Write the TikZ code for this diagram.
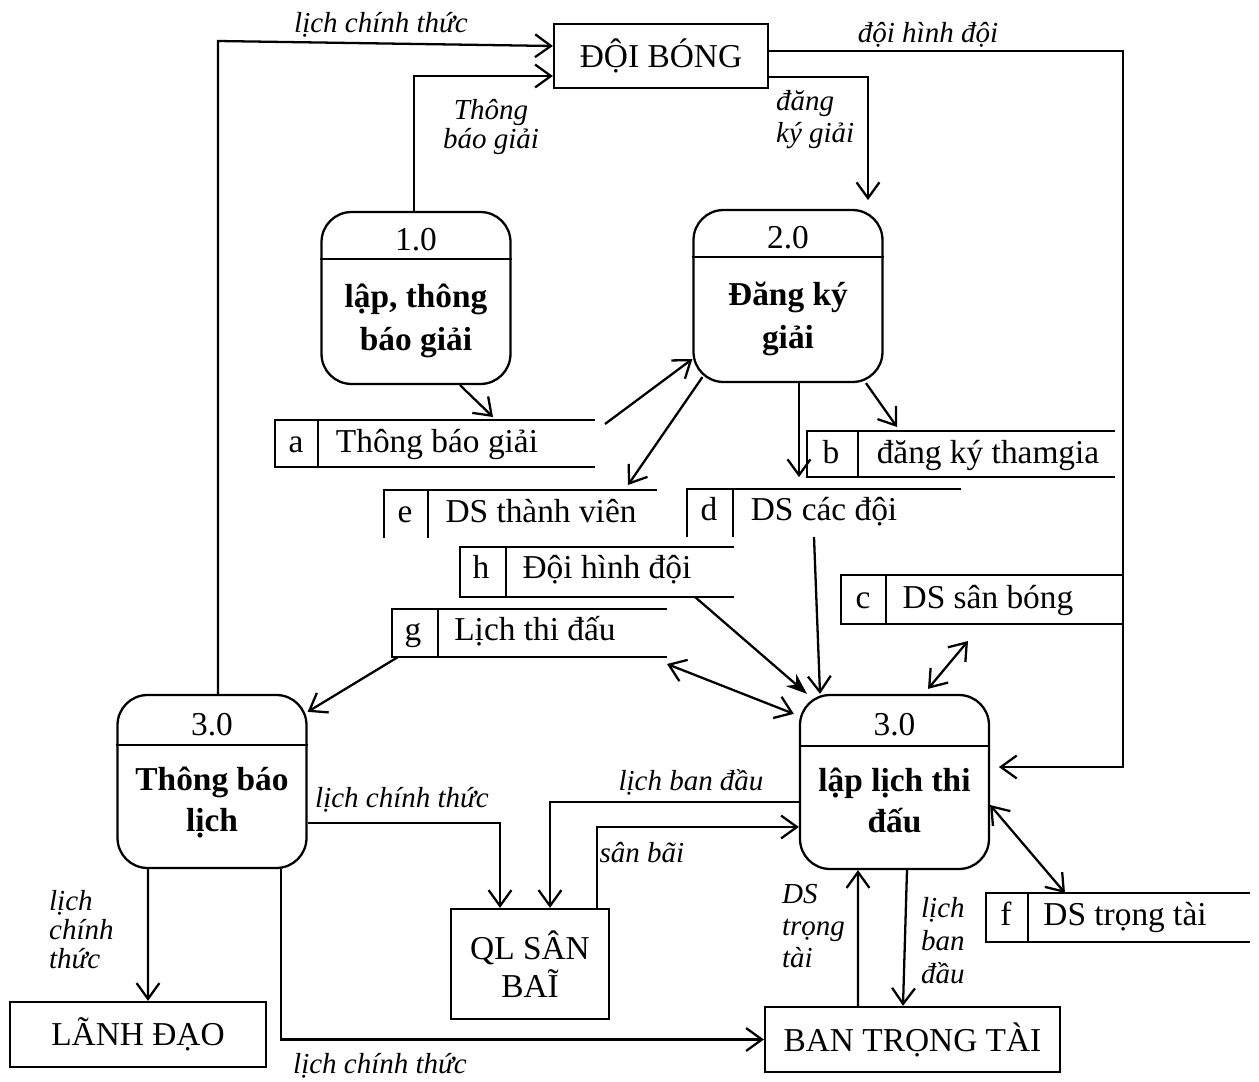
\documentclass[tikz,border=0pt]{standalone}
\usepackage{fontspec}
\setmainfont{Liberation Serif}
\usetikzlibrary{arrows.meta,positioning}

\tikzset{
  proc/.style={draw, rounded corners=0.6cm, minimum width=3.78cm, minimum height=3.44cm, inner sep=0pt},
  ext/.style={draw, inner sep=0pt, align=center},
  lbl/.style={font=\fontsize{16.5}{#1}\selectfont\itshape, inner sep=0pt, anchor=base},
  lbl/.default=18,
  ttl/.style={font=\fontsize{19}{#1}\selectfont\bfseries, align=center, inner sep=0pt, anchor=base},
  ttl/.default=24,
}

\begin{document}
\begin{tikzpicture}[x=0.02cm, y=-0.02cm, line width=1.3pt,
  font=\fontsize{19}{23}\selectfont, >={Straight Barb[length=9pt,width=13pt]}]
  \useasboundingbox (0,0) rectangle (1259,1082);

  % external entities
  \node[ext, minimum width=4.28cm, minimum height=1.28cm] (doibong) at (661,56) {ĐỘI BÓNG};
  \node[ext, minimum width=5.12cm, minimum height=1.3cm] (ld) at (138,1034.5) {LÃNH ĐẠO};
  \node[ext, minimum width=3.16cm, minimum height=2.2cm, font=\fontsize{19}{21.5}\selectfont] (ql) at (530,964) {QL SÂN\\BAĨ};
  \node[ext, minimum width=5.9cm, minimum height=1.3cm] (bt) at (912.5,1039.5) {BAN TRỌNG TÀI};

  % processes
  \node[proc] (p1) at (416,298) {};
  \draw (p1.west |- 0,259) -- (p1.east |- 0,259);
  \node[anchor=base] (p1num) at (416,250) {1.0};
  \node[ttl] (p1ttl) at (416,350) {lập, thông\\báo giải};

  \node[proc] (p2) at (788,296) {};
  \draw (p2.west |- 0,257) -- (p2.east |- 0,257);
  \node[anchor=base] (p2num) at (788,248) {2.0};
  \node[ttl] (p2ttl) at (788,348) {Đăng ký\\giải};

  \node[proc, minimum height=3.46cm] (p3) at (212,781.5) {};
  \draw (p3.west |- 0,745) -- (p3.east |- 0,745);
  \node[anchor=base] (p3num) at (212,735) {3.0};
  \node[ttl=23] (p3ttl) at (212,831) {Thông báo\\lịch};

  \node[proc, minimum height=3.48cm] (p4) at (894.5,782) {};
  \draw (p4.west |- 0,746) -- (p4.east |- 0,746);
  \node[anchor=base] (p4num) at (894.5,735) {3.0};
  \node[ttl=23] (p4ttl) at (894.5,832) {lập lịch thi\\đấu};

  % data stores
  \draw (595,420) -- (275,420) -- (275,467) -- (595,467) (318,420) -- (318,467);
  \node[anchor=base] (aKey) at (296,452) {a};
  \node[anchor=base] (aName) at (437,452) {Thông báo giải};

  \draw (1115,431) -- (807,431) -- (807,477) -- (1115,477) (858,431) -- (858,477);
  \node[anchor=base] (bKey) at (831,463) {b};
  \node[anchor=base] (bName) at (988,463) {đăng ký thamgia};

  \draw (1122,575) -- (841,575) -- (841,624) -- (1122,624) (886,575) -- (886,624);
  \node[anchor=base] (cKey) at (863,608) {c};
  \node[anchor=base] (cName) at (988,608) {DS sân bóng};

  \draw (961,489) -- (687,489) -- (687,537) (733,489) -- (733,537);
  \node[anchor=base] (dKey) at (709,520) {d};
  \node[anchor=base] (dName) at (824,520) {DS các đội};

  \draw (657,490) -- (384,490) -- (384,538) (428,490) -- (428,538);
  \node[anchor=base] (eKey) at (405,522) {e};
  \node[anchor=base] (eName) at (541,522) {DS thành viên};

  \draw (1250,893) -- (986,893) -- (986,942) -- (1250,942) (1028,893) -- (1028,942);
  \node[anchor=base] (fKey) at (1006,925) {f};
  \node[anchor=base] (fName) at (1125,925) {DS trọng tài};

  \draw (667,609) -- (392,609) -- (392,657) -- (667,657) (438,609) -- (438,657);
  \node[anchor=base] (gKey) at (413,640) {g};
  \node[anchor=base] (gName) at (535,640) {Lịch thi đấu};

  \draw (734,547) -- (460,547) -- (460,597) -- (734,597) (506,547) -- (506,597);
  \node[anchor=base] (hKey) at (481,578) {h};
  \node[anchor=base] (hName) at (607,578) {Đội hình đội};

  % store ports
  \coordinate (aIn) at (493,417);
  \coordinate (aOut) at (605,424);
  \coordinate (eIn) at (628,485);
  \coordinate (bIn) at (897,427);
  \coordinate (dOut) at (814,537);
  \coordinate (hOut) at (695,597);
  \coordinate (gSide) at (667,664);
  \coordinate (gOut) at (398,657);
  \coordinate (cOut) at (968,641);
  \coordinate (fIn) at (1065,893);
  \coordinate (topLeft) at (218,41);

  % flows round the top
  \draw[->] ([xshift=0.12cm]p3.north) -- (topLeft) -- ([yshift=0.2cm]doibong.west);
  \node[lbl] (lbTop) at (381,32) {lịch chính thức};
  \draw[->] ([xshift=-0.04cm]p1.north) |- ([yshift=-0.4cm]doibong.west);
  \node[lbl=16, align=center] (lbTb) at (491,148) {Thông\\báo giải};
  \draw[->, shorten >=5pt] ([yshift=0.1cm]doibong.east) -| ([xshift=2.66cm, yshift=0.3cm]p4.east) -- ([yshift=0.3cm]p4.east);
  \node[lbl] (lbDh) at (928,42) {đội hình đội};
  \draw[->, shorten >=5pt] ([yshift=-0.42cm]doibong.east) -| ([xshift=1.6cm]p2.north);
  \node[lbl, align=left, anchor=base west] (lbDk) at (775,142) {đăng\\ký giải};

  % flows round the stores
  \draw[->] ([xshift=0.88cm]p1.south) -- (aIn);
  \draw[->] (aOut) -- ([yshift=-1.26cm]p2.west);
  \draw[->] ([shift={(0.2cm,0.12cm)}]p2.south west) -- (eIn);
  \draw[->] ([xshift=0.22cm]p2.south) -- ++(0,94);
  \draw[->] ([xshift=1.56cm]p2.south) -- (bIn);
  \draw[->] (dOut) -- ([xshift=-1.49cm]p4.north);
  \draw[-{Stealth[length=12pt,width=9pt]}] (hOut) -- ([xshift=-1.75cm]p4.north);
  \draw[<->] (gSide) -- ([shift={(-0.1cm,-0.4cm)}]p4.north west);
  \draw[<->] (cOut) -- ([shift={(0.67cm,0.1cm)}]p4.north);
  \draw[->] (gOut) -- ([yshift=-0.36cm]p3.north east);
  \draw[<->] ([yshift=-0.46cm]p4.east) -- (fIn);

  % flows round the bottom
  \draw[->] ([yshift=-0.83cm]p3.east) -| ([xshift=-0.6cm]ql.north);
  \node[lbl] (lbQl) at (402,807) {lịch chính thức};
  \draw[->] ([yshift=-0.4cm]p4.west) -| ([xshift=0.4cm]ql.north);
  \node[lbl] (lbBd) at (691,790) {lịch ban đầu};
  \draw[->] ([xshift=1.34cm]ql.north) |- ([yshift=-0.9cm]p4.west);
  \node[lbl] (lbSb) at (642,862) {sân bãi};
  \draw[->] ([xshift=-1.28cm]p3.south) -- ([xshift=0.2cm]ld.north);
  \node[lbl=16.4, align=left, anchor=base west] (lbLd) at (48,968) {lịch\\chính\\thức};
  \draw[->] ([xshift=1.38cm]p3.south) |- (bt.west);
  \node[lbl] (lbBt) at (380,1073) {lịch chính thức};
  \draw[->] ([xshift=-1.09cm]bt.north) -- ([xshift=-0.73cm]p4.south);
  \node[lbl, align=left, anchor=base west] (lbTt) at (781,967) {DS\\trọng\\tài};
  \draw[->] ([xshift=0.25cm]p4.south) -- ([xshift=-0.19cm]bt.north);
  \node[lbl=18.7, align=left, anchor=base west] (lbLb) at (920,983) {lịch\\ban\\đầu};
\end{tikzpicture}
\end{document}
